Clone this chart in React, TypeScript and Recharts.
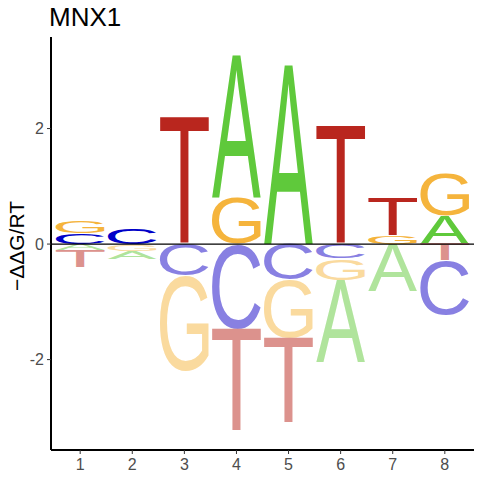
import React from 'react';
import { ComposedChart, XAxis, YAxis, ReferenceArea, ReferenceLine, Line, Label } from 'recharts';

const positions = [1, 2, 3, 4, 5, 6, 7, 8];
const ddgA = [-0.11, -0.13, 0, 2.46, 3.1, -1.42, -0.81, 0.49];
const ddgC = [0.19, 0.26, -0.55, -1.47, -0.61, -0.25, 0, -0.94];
const ddgG = [0.21, -0.12, -1.65, 0.8, -1.01, -0.37, 0.14, 0.73];
const ddgT = [-0.29, 0, 2.2, -1.77, -1.48, 2.05, 0.66, -0.28];
const yTicks = [-2, 0, 2];
const letters = ['A', 'C', 'G', 'T'];
const series = [ddgA, ddgC, ddgG, ddgT];

const posColors: Record<string, string> = { A: '#5FC93B', C: '#0000C8', G: '#F5B43C', T: '#B9261E' };
const negColors: Record<string, string> = { A: '#B0E49C', C: '#8880E2', G: '#FADA9E', T: '#DC928D' };

const FONT = "'Liberation Sans', Arial, sans-serif";
const HALF = 0.47;
const FS = 100;

type Box = { l: number; r: number; a: number; d: number };
const FALLBACK: Record<string, Box> = {
  A: { l: 0, r: 66.7, a: 68.8, d: 0 },
  C: { l: -4.9, r: 67.6, a: 70.0, d: 1.2 },
  G: { l: -5.3, r: 70.8, a: 70.0, d: 1.2 },
  T: { l: -2.3, r: 59.1, a: 68.8, d: 0 },
};

function measureGlyphs(): Record<string, Box> {
  const res: Record<string, Box> = { ...FALLBACK };
  try {
    const c = document.createElement('canvas');
    const ctx = c.getContext('2d');
    if (!ctx) return res;
    ctx.font = `${FS}px ${FONT}`;
    for (const L of letters) {
      const m = ctx.measureText(L);
      if (m.actualBoundingBoxAscent > 0) {
        res[L] = {
          l: m.actualBoundingBoxLeft,
          r: m.actualBoundingBoxRight,
          a: m.actualBoundingBoxAscent,
          d: m.actualBoundingBoxDescent,
        };
      }
    }
  } catch (e) {
    // keep fallback
  }
  return res;
}

type Stack = { pos: number; letter: string; y1: number; y2: number; color: string };

const stacks: Stack[] = [];
positions.forEach((p, i) => {
  const vals = letters.map((l, k) => ({ l, v: series[k][i] })).filter((d) => d.v !== 0);
  const pos = vals.filter((d) => d.v > 0).sort((a, b) => a.v - b.v);
  const neg = vals.filter((d) => d.v < 0).sort((a, b) => b.v - a.v);
  let acc = 0;
  pos.forEach((d) => {
    stacks.push({ pos: p, letter: d.l, y1: acc, y2: acc + d.v, color: posColors[d.l] });
    acc += d.v;
  });
  acc = 0;
  neg.forEach((d) => {
    stacks.push({ pos: p, letter: d.l, y1: acc + d.v, y2: acc, color: negColors[d.l] });
    acc += d.v;
  });
});

const lineData = positions.map((p, i) => ({
  pos: p,
  top: series.reduce((s, arr) => s + Math.max(0, arr[i]), 0),
}));

function renderLetter(props: any, letter: string, color: string, glyphs: Record<string, Box>) {
  const { x, y, width, height } = props;
  if (!width || !height) return <g />;
  const b = glyphs[letter];
  const gw = b.l + b.r;
  const gh = b.a + b.d;
  const sx = width / gw;
  const sy = height / gh;
  return (
    <g transform={`translate(${x},${y + height}) scale(${sx},${sy})`}>
      <text x={b.l} y={-b.d} fontSize={FS} fontFamily={FONT} fill={color}>
        {letter}
      </text>
    </g>
  );
}

export default function App() {
  const glyphs = React.useMemo(() => measureGlyphs(), []);
  return (
    <div style={{ position: 'absolute', left: 0, top: 0, width: 480, height: 480, background: '#fff' }}>
      <div
        style={{
          position: 'absolute',
          left: 49,
          top: 4,
          fontFamily: FONT,
          fontSize: 26,
          lineHeight: '26px',
          color: '#000',
          whiteSpace: 'nowrap',
        }}
      >
        MNX1
      </div>
      <ComposedChart
        width={480}
        height={480}
        data={lineData}
        margin={{ top: 37, right: 6, left: 0, bottom: 0 }}
      >
        <XAxis
          dataKey="pos"
          type="number"
          domain={[0.44, 8.56]}
          ticks={positions}
          allowDataOverflow
          height={30}
          tickSize={4}
          tickMargin={5}
          axisLine={{ stroke: '#000', strokeWidth: 2 }}
          tickLine={{ stroke: '#333' }}
          tick={{ fill: '#4D4D4D', fontSize: 16, fontFamily: FONT }}
        />
        <YAxis
          type="number"
          domain={[-3.565, 3.585]}
          ticks={yTicks}
          allowDataOverflow
          width={51}
          tickSize={4}
          tickMargin={3}
          axisLine={{ stroke: '#000', strokeWidth: 2 }}
          tickLine={{ stroke: '#333' }}
          tick={{ fill: '#4D4D4D', fontSize: 16, fontFamily: FONT }}
        >
          <Label
            content={() => (
              <text
                x={16}
                y={246}
                transform="rotate(-90, 16, 246)"
                textAnchor="middle"
                dominantBaseline="central"
                fontSize={21}
                fontFamily={FONT}
                fill="#000"
              >
                −ΔΔG/RT
              </text>
            )}
          />
        </YAxis>
        <Line dataKey="top" stroke="none" dot={false} activeDot={false} isAnimationActive={false} />
        {stacks.map((s, i) => (
          <ReferenceArea
            key={i}
            x1={s.pos - HALF}
            x2={s.pos + HALF}
            y1={s.y1}
            y2={s.y2}
            ifOverflow="visible"
            shape={(props: any) => renderLetter(props, s.letter, s.color, glyphs)}
          />
        ))}
        <ReferenceLine y={0} stroke="#000" strokeWidth={1.3} />
      </ComposedChart>
    </div>
  );
}
